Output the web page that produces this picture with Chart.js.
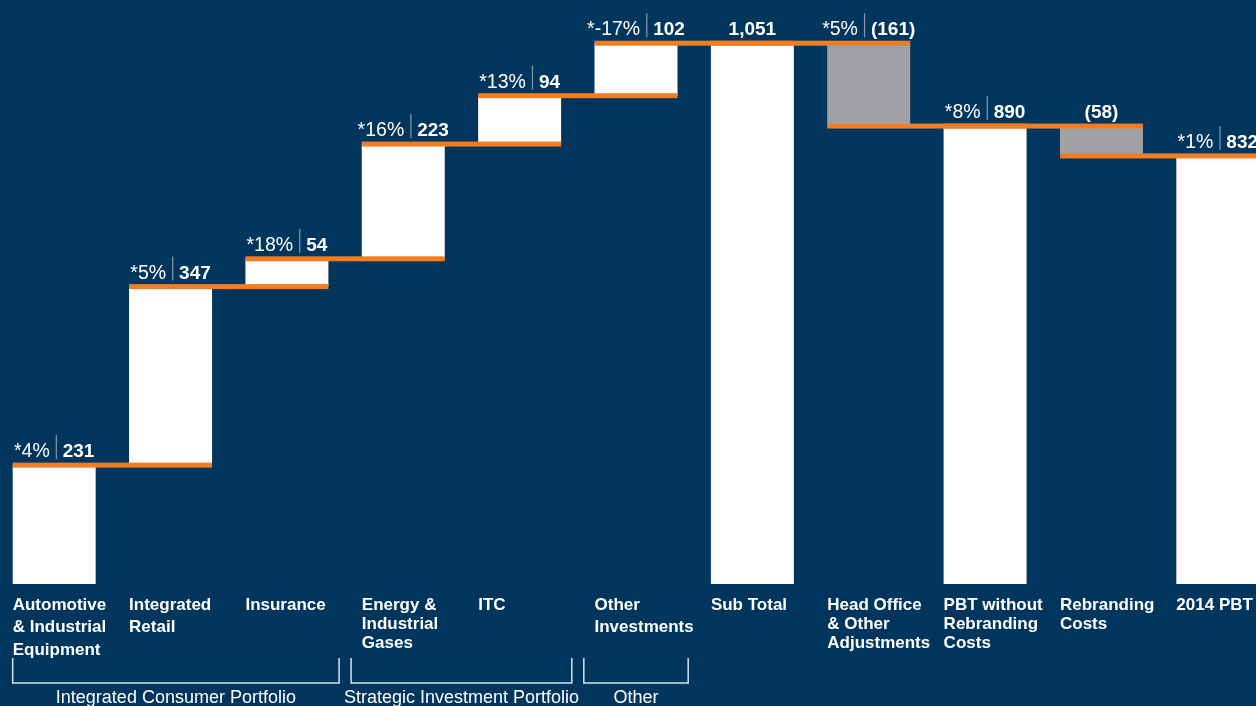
<!DOCTYPE html>
<html>
<head>
<meta charset="utf-8">
<script src="https://cdn.jsdelivr.net/npm/chart.js@4/dist/chart.umd.min.js"></script>
<style>
  html, body { margin: 0; padding: 0; background: #00365e; overflow: hidden; }
  #wrap { position: absolute; left: -4px; top: 0; width: 1280px; height: 706px; }
</style>
</head>
<body>
<div id="wrap"><canvas id="pbtChart"></canvas></div>
<script>
const categories = [
    ['Automotive', '& Industrial', 'Equipment'],
    ['Integrated', 'Retail'],
    ['Insurance'],
    ['Energy &', 'Industrial', 'Gases'],
    ['ITC'],
    ['Other', 'Investments'],
    ['Sub Total'],
    ['Head Office', '& Other', 'Adjustments'],
    ['PBT without', 'Rebranding', 'Costs'],
    ['Rebranding', 'Costs'],
    ['2014 PBT']
];
const amounts = [231, 347, 54, 223, 94, 102, 1051, -161, 890, -58, 832];
const isTotal = [false, false, false, false, false, false, true, false, true, false, true];
const changes = ['*4%', '*5%', '*18%', '*16%', '*13%', '*-17%', null, '*5%', '*8%', null, '*1%'];

const groupNames = ['Integrated Consumer Portfolio', 'Strategic Investment Portfolio', 'Other'];
const groupFirst = [0, 3, 5];
const groupLast = [2, 4, 5];

const ORANGE = '#f47d22';
const GREY = '#a0a1a4';
const FONT = "'Liberation Sans', Arial, sans-serif";

// floating ranges + running level after each bar
const ranges = [];
const levels = [];
let run = 0;
amounts.forEach((v, i) => {
    if (isTotal[i]) {
        ranges.push([0, v]);
        run = v;
    } else {
        ranges.push([run, run + v]);
        run += v;
    }
    levels.push(run);
});

const fmtValue = (v) => {
    const s = Math.abs(v).toLocaleString('en-US');
    return v < 0 ? `(${s})` : s;
};

// a few columns use looser line spacing under the bars
const roomyLabels = [0, 1, 5];

const stepDecor = {
    id: 'stepDecor',
    afterDatasetsDraw(chart) {
        const ctx = chart.ctx;
        const y = chart.scales.y;
        const bars = chart.getDatasetMeta(0).data;

        // orange connectors between neighbouring bars
        ctx.save();
        ctx.fillStyle = ORANGE;
        for (let i = 0; i < bars.length - 1; i++) {
            const a = bars[i], b = bars[i + 1];
            const left = a.x - a.width / 2;
            const right = b.x + b.width / 2;
            const py = y.getPixelForValue(levels[i]);
            ctx.fillRect(left, py - 2.5, right - left, 5);
        }
        ctx.restore();

        // "*x% | value" labels over each bar
        ctx.save();
        ctx.textBaseline = 'alphabetic';
        ctx.fillStyle = '#ffffff';
        bars.forEach((bar, i) => {
            const top = Math.max(ranges[i][0], ranges[i][1]);
            const base = y.getPixelForValue(top) - 8;
            const valTxt = fmtValue(amounts[i]);
            const pctFont = `19.5px ${FONT}`;
            const valFont = `bold 19px ${FONT}`;
            ctx.font = valFont;
            const valW = ctx.measureText(valTxt).width;
            if (!changes[i]) {
                ctx.textAlign = 'center';
                ctx.fillText(valTxt, bar.x, base);
                return;
            }
            ctx.font = pctFont;
            const pctW = ctx.measureText(changes[i]).width;
            const gap = 6;
            const total = pctW + gap * 2 + 1 + valW;
            let x = bar.x - total / 2;
            ctx.textAlign = 'left';
            ctx.fillText(changes[i], x, base);
            x += pctW + gap;
            ctx.fillStyle = '#8798ad';
            ctx.fillRect(x, base - 22, 1.2, 24);
            ctx.fillStyle = '#ffffff';
            x += 1 + gap;
            ctx.font = valFont;
            ctx.fillText(valTxt, x, base);
        });
        ctx.restore();
    },
    afterDraw(chart) {
        const ctx = chart.ctx;
        const bars = chart.getDatasetMeta(0).data;
        const edgeL = (i) => bars[i].x - bars[i].width / 2;
        const edgeR = (i) => bars[i].x + bars[i].width / 2;
        const axisY = chart.scales.y.getPixelForValue(0);

        // category names, left-aligned under each bar
        ctx.save();
        ctx.fillStyle = '#ffffff';
        ctx.font = `bold 17px ${FONT}`;
        ctx.textAlign = 'left';
        ctx.textBaseline = 'middle';
        categories.forEach((lines, i) => {
            const lh = roomyLabels.includes(i) ? 22.5 : 19;
            lines.forEach((txt, k) => {
                ctx.fillText(txt, edgeL(i), axisY + 21 + k * lh);
            });
        });
        ctx.restore();

        // group brackets along the bottom
        ctx.save();
        ctx.strokeStyle = 'rgba(255,255,255,0.85)';
        ctx.lineWidth = 1.5;
        ctx.fillStyle = '#ffffff';
        ctx.font = `18px ${FONT}`;
        ctx.textAlign = 'center';
        ctx.textBaseline = 'middle';
        groupNames.forEach((name, g) => {
            const f = groupFirst[g], l = groupLast[g];
            const left = f === 0 ? edgeL(f) : (edgeR(f - 1) + edgeL(f)) / 2 + 6;
            const right = (edgeR(l) + edgeL(l + 1)) / 2 - 6;
            ctx.beginPath();
            ctx.moveTo(left, 658);
            ctx.lineTo(left, 683);
            ctx.lineTo(right, 683);
            ctx.lineTo(right, 658);
            ctx.stroke();
            ctx.fillText(name, (left + right) / 2, 698);
        });
        ctx.restore();
    }
};

new Chart(document.getElementById('pbtChart'), {
    type: 'bar',
    data: {
        labels: categories,
        datasets: [{
            data: ranges,
            backgroundColor: amounts.map((v, i) => (!isTotal[i] && v < 0) ? GREY : '#ffffff'),
            borderWidth: 0,
            barPercentage: 0.713,
            categoryPercentage: 1
        }]
    },
    options: {
        responsive: true,
        maintainAspectRatio: false,
        animation: false,
        layout: { padding: { top: 0, bottom: 122, left: 0, right: 0 } },
        plugins: { legend: { display: false }, tooltip: { enabled: false } },
        scales: {
            x: { display: false },
            y: {
                display: false,
                min: 0,
                max: 1135
            }
        }
    },
    plugins: [stepDecor]
});
</script>
</body>
</html>
